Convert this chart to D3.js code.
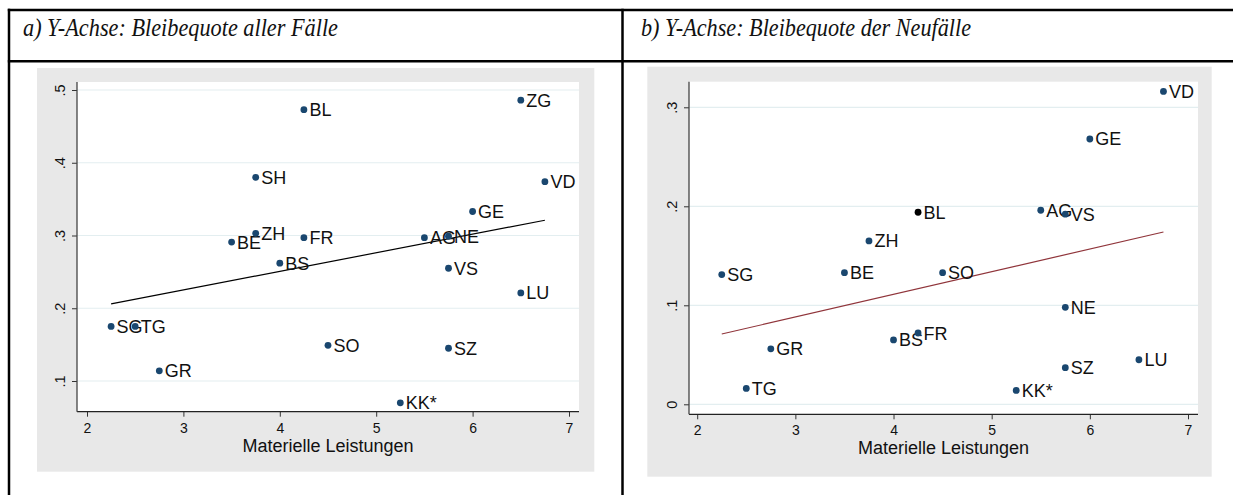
<!DOCTYPE html>
<html>
<head>
<meta charset="utf-8">
<script src="https://cdn.jsdelivr.net/npm/d3@7"></script>
<style>
  html, body { margin: 0; padding: 0; background: #ffffff; }
  svg { display: block; }
</style>
</head>
<body>
<svg id="chart" width="1233" height="495"></svg>
<script>
// ---------------- DATA ----------------
const titleA = "a) Y-Achse: Bleibequote aller Fälle";
const titleB = "b) Y-Achse: Bleibequote der Neufälle";
const xTitle = "Materielle Leistungen";

// Panel a: Bleibequote aller Fälle
const cantonsA = ["SG","TG","GR","BE","SH","ZH","BS","BL","FR","SO","KK*","AG","NE","VS","SZ","GE","ZG","LU","VD"];
const xA       = [2.25, 2.5, 2.75, 3.5, 3.75, 3.75, 4.0, 4.25, 4.25, 4.5, 5.25, 5.5, 5.75, 5.75, 5.75, 6.0, 6.5, 6.5, 6.75];
const yA       = [0.175,0.175,0.114,0.291,0.380,0.303,0.262,0.473,0.297,0.149,0.070,0.297,0.299,0.255,0.145,0.333,0.486,0.221,0.374];
const fitXA    = [2.25, 6.75];
const fitYA    = [0.206, 0.321];
const xTicksA  = [2,3,4,5,6,7];
const yTicksA  = [0.1,0.2,0.3,0.4,0.5];
const yTickLabelsA = [".1",".2",".3",".4",".5"];

// Panel b: Bleibequote der Neufälle
const cantonsB = ["SG","TG","GR","BE","ZH","BS","BL","FR","SO","KK*","AG","NE","VS","SZ","GE","LU","VD"];
const xB       = [2.25, 2.5, 2.75, 3.5, 3.75, 4.0, 4.25, 4.25, 4.5, 5.25, 5.5, 5.75, 5.75, 5.75, 6.0, 6.5, 6.75];
const yB       = [0.131,0.016,0.056,0.133,0.165,0.065,0.194,0.072,0.133,0.014,0.196,0.098,0.192,0.037,0.268,0.045,0.316];
const fitXB    = [2.25, 6.75];
const fitYB    = [0.071, 0.174];
const xTicksB  = [2,3,4,5,6,7];
const yTicksB  = [0, 0.1, 0.2, 0.3];
const yTickLabelsB = ["0",".1",".2",".3"];
const highlightB = ["BL"];

// ---------------- DRAW ----------------
const svg = d3.select("#chart");
const W = 1233, H = 495;

// table frame
const frame = svg.append("g").attr("stroke", "#000").attr("stroke-width", 2.5);
frame.append("line").attr("x1", 7.8).attr("x2", W).attr("y1", 10).attr("y2", 10);
frame.append("line").attr("x1", 7.8).attr("x2", W).attr("y1", 61.2).attr("y2", 61.2);
frame.append("line").attr("x1", 9).attr("x2", 9).attr("y1", 8.8).attr("y2", H);
frame.append("line").attr("x1", 622.5).attr("x2", 622.5).attr("y1", 8.8).attr("y2", H);

// header titles
function header(txt, x, len) {
  svg.append("text")
    .attr("x", x).attr("y", 35.5)
    .attr("font-family", "'Liberation Serif', 'Times New Roman', serif")
    .attr("font-style", "italic")
    .attr("font-size", 24.5)
    .attr("fill", "#111")
    .attr("textLength", len)
    .attr("lengthAdjust", "spacingAndGlyphs")
    .text(txt);
}
header(titleA, 23, 315);
header(titleB, 641, 330);

function panel(cfg) {
  const g = svg.append("g");
  // gray outer region
  g.append("rect")
    .attr("x", cfg.bg[0]).attr("y", cfg.bg[1])
    .attr("width", cfg.bg[2] - cfg.bg[0]).attr("height", cfg.bg[3] - cfg.bg[1])
    .attr("fill", "#e8e8e8");

  const x = d3.scaleLinear().domain([2, 7]).range(cfg.xr);
  const y = d3.scaleLinear().domain(cfg.yd).range(cfg.yr);
  const px0 = cfg.plot[0], px1 = cfg.plot[1], py0 = cfg.plot[2], py1 = cfg.plot[3];

  // white plot region
  g.append("rect")
    .attr("x", px0).attr("y", py0)
    .attr("width", px1 - px0).attr("height", py1 - py0)
    .attr("fill", "#ffffff");

  // gridlines
  g.append("g").selectAll("line").data(cfg.yTicks).join("line")
    .attr("x1", px0).attr("x2", px1)
    .attr("y1", d => y(d)).attr("y2", d => y(d))
    .attr("stroke", "#e3eef0").attr("stroke-width", 1.2);

  // x axis
  const xAxis = d3.axisBottom(x).tickValues(cfg.xTicks).tickSize(5).tickFormat(d3.format("d"));
  const gx = g.append("g").attr("transform", `translate(0,${py1})`).call(xAxis);
  gx.select(".domain").remove();
  gx.selectAll(".tick line").attr("stroke", "#333");
  gx.selectAll(".tick text")
    .attr("font-family", "'Liberation Sans', Arial, sans-serif")
    .attr("font-size", 14).attr("fill", "#111")
    .attr("y", 0).attr("dy", 0)
    .attr("transform", "translate(0,21)");
  g.append("line").attr("x1", px0).attr("x2", px1).attr("y1", py1).attr("y2", py1)
    .attr("stroke", "#222").attr("stroke-width", 1.3);

  // y axis
  const yAxis = d3.axisLeft(y).tickValues(cfg.yTicks).tickSize(5)
    .tickFormat((d, i) => cfg.yLabels[i]);
  const gy = g.append("g").attr("transform", `translate(${px0},0)`).call(yAxis);
  gy.select(".domain").remove();
  gy.selectAll(".tick line").attr("stroke", "#333");
  gy.selectAll(".tick text")
    .attr("font-family", "'Liberation Sans', Arial, sans-serif")
    .attr("font-size", 14.5).attr("fill", "#111")
    .attr("x", 0).attr("dy", 0)
    .attr("text-anchor", "middle")
    .attr("transform", "translate(-12,0) rotate(-90)");
  g.append("line").attr("x1", px0).attr("x2", px0).attr("y1", py0).attr("y2", py1)
    .attr("stroke", "#444").attr("stroke-width", 1.3);

  // axis title
  g.append("text")
    .attr("x", (px0 + px1) / 2).attr("y", cfg.titleY)
    .attr("text-anchor", "middle")
    .attr("font-family", "'Liberation Sans', Arial, sans-serif")
    .attr("font-size", 18).attr("fill", "#111")
    .text(xTitle);

  // fit line
  const line = d3.line().x(d => x(d[0])).y(d => y(d[1]));
  g.append("path")
    .datum(cfg.fitX.map((v, i) => [v, cfg.fitY[i]]))
    .attr("d", line)
    .attr("fill", "none")
    .attr("stroke", cfg.fitColor).attr("stroke-width", 1.2);

  // points with labels (drawn in data order so later markers overlap earlier labels)
  const pts = cfg.names.map((n, i) => ({ n, x: cfg.xs[i], y: cfg.ys[i] }));
  const pg = g.append("g").selectAll("g").data(pts).join("g")
    .attr("transform", d => `translate(${x(d.x)},${y(d.y)})`);
  pg.append("circle").attr("r", 3.4)
    .attr("fill", d => cfg.highlight.includes(d.n) ? "#000000" : "#1a476f");
  pg.append("text")
    .attr("x", 5.5).attr("dy", "0.36em")
    .attr("font-family", "'Liberation Sans', Arial, sans-serif")
    .attr("font-size", 18).attr("fill", "#111")
    .text(d => d.n);
}

panel({
  bg: [37, 68, 594.3, 471.7],
  plot: [77, 579, 82, 411.7],
  xr: [87, 569],
  yd: [0.1, 0.5], yr: [381, 90],
  xTicks: xTicksA, yTicks: yTicksA, yLabels: yTickLabelsA,
  titleY: 451.8,
  names: cantonsA, xs: xA, ys: yA,
  fitX: fitXA, fitY: fitYA, fitColor: "#000000",
  highlight: []
});

panel({
  bg: [647.3, 66.7, 1211.7, 476.7],
  plot: [689, 1198, 81.7, 414.3],
  xr: [697.2, 1188],
  yd: [0, 0.3], yr: [404.3, 107.3],
  xTicks: xTicksB, yTicks: yTicksB, yLabels: yTickLabelsB,
  titleY: 454,
  names: cantonsB, xs: xB, ys: yB,
  fitX: fitXB, fitY: fitYB, fitColor: "#90353b",
  highlight: highlightB
});
</script>
</body>
</html>
